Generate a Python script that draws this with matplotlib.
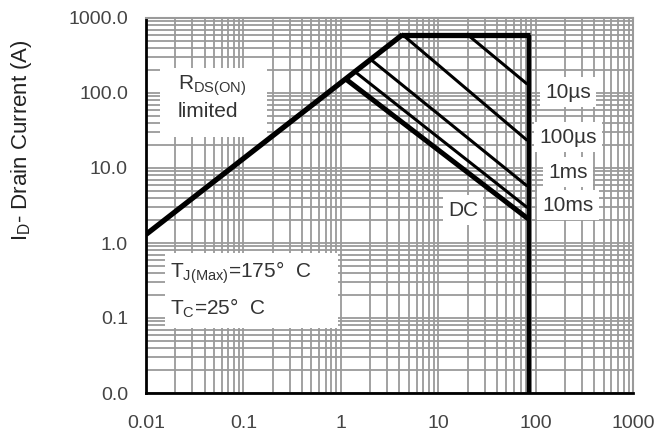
import numpy as np
import matplotlib
matplotlib.use("Agg")
import matplotlib.pyplot as plt
from matplotlib.patches import Rectangle
from matplotlib.ticker import LogLocator, NullFormatter, FixedLocator, FixedFormatter

plt.rcParams["font.family"] = ["Liberation Sans", "DejaVu Sans"]
plt.rcParams["mathtext.fontset"] = "custom"
plt.rcParams["mathtext.rm"] = "Liberation Sans"
plt.rcParams["mathtext.it"] = "Liberation Sans"

# Safe operating area boundaries (V, A)
rds_v = [0.01, 4.3]
rds_i = [1.3, 600]
top_v = [4.3, 88]
top_i = [600, 600]
vmax_v = [85, 85]
vmax_i = [0.01, 600]

# pulse lines: (start V, end V) and (start I, end I)
pulse_names = ["10µs", "100µs", "1ms", "10ms", "DC"]
pulse_v = [[20, 80], [4.3, 80], [2.1, 80], [1.45, 80], [1.15, 80]]
pulse_i = [[600, 135], [600, 24], [270, 5.9], [185, 3.05], [150, 2.2]]
pulse_lw = [2.2, 2.2, 2.2, 2.2, 3.6]

# label positions for the pulse lines
label_v = [215, 215, 215, 215, 18]
label_i = [103, 25.9, 8.8, 3.2, 2.75]

xticks = [0.01, 0.1, 1, 10, 100, 1000]
xlabels = ["0.01", "0.1", "1", "10", "100", "1000"]
yticks = [0.01, 0.1, 1, 10, 100, 1000]
ylabels = ["0.0", "0.1", "1.0", "10.0", "100.0", "1000.0"]

fig = plt.figure(figsize=(6.57, 4.36), dpi=100)
ax = fig.add_axes([146 / 657, 1 - 393 / 436, 487 / 657, 375 / 436])
ax.set_xscale("log")
ax.set_yscale("log")
ax.set_xlim(0.01, 1000)
ax.set_ylim(0.01, 1000)

ax.xaxis.set_major_locator(FixedLocator(xticks))
ax.xaxis.set_major_formatter(FixedFormatter(xlabels))
ax.yaxis.set_major_locator(FixedLocator(yticks))
ax.yaxis.set_major_formatter(FixedFormatter(ylabels))
for axis in (ax.xaxis, ax.yaxis):
    axis.set_minor_locator(LogLocator(base=10, subs=np.arange(2, 10)))
    axis.set_minor_formatter(NullFormatter())
ax.tick_params(which="both", length=0, labelsize=14, colors="#444444")
ax.tick_params(axis="y", pad=13)
ax.tick_params(axis="x", pad=16)

ax.grid(True, which="both", color="#9a9a9a", lw=1.3)
ax.set_axisbelow(True)
for s in ["left", "bottom"]:
    ax.spines[s].set_linewidth(2)
    ax.spines[s].set_color("black")
for s in ["top", "right"]:
    ax.spines[s].set_linewidth(1.5)
    ax.spines[s].set_color("#9a9a9a")

# boundaries
ax.plot(rds_v, rds_i, color="black", lw=3.8, solid_capstyle="butt", zorder=5)
ax.plot(top_v, top_i, color="black", lw=3.8, solid_capstyle="butt", zorder=5)
ax.plot(vmax_v, vmax_i, color="black", lw=3.2, solid_capstyle="butt", zorder=5)

for v, i, lw in zip(pulse_v, pulse_i, pulse_lw):
    ax.plot(v, i, color="black", lw=lw, zorder=5)

for name, x, y in zip(pulse_names, label_v, label_i):
    ax.text(x, y, name, fontsize=15, color="#333333", ha="center", va="center",
            bbox=dict(facecolor="white", edgecolor="none", boxstyle="square,pad=0.25"),
            zorder=4)

# white note boxes
ax.add_patch(Rectangle((0.0287, 0.683), 0.22, 0.184, transform=ax.transAxes,
                       facecolor="white", edgecolor="none", zorder=3))
ax.add_patch(Rectangle((0.039, 0.173), 0.355, 0.2, transform=ax.transAxes,
                       facecolor="white", edgecolor="none", zorder=3))

ax.text(0.0657, 0.789, "R$_{\\mathrm{DS(ON)}}$\nlimited", fontsize=15, color="#333333",
        ha="left", va="center", linespacing=1.25, transform=ax.transAxes, zorder=4)

ax.text(0.049, 0.275, "T$_{\\mathrm{J(Max)}}$=175°  C\nT$_{\\mathrm{C}}$=25°  C",
        fontsize=15, color="#333333", ha="left", va="center", linespacing=1.6,
        transform=ax.transAxes, zorder=4)

fig.text(22 / 657, 1 - 140 / 436, "I$_{\\mathrm{D}}$- Drain Current (A)", fontsize=16,
         rotation=90, ha="center", va="center", color="#222222")

fig.savefig("out.png", dpi=100)
